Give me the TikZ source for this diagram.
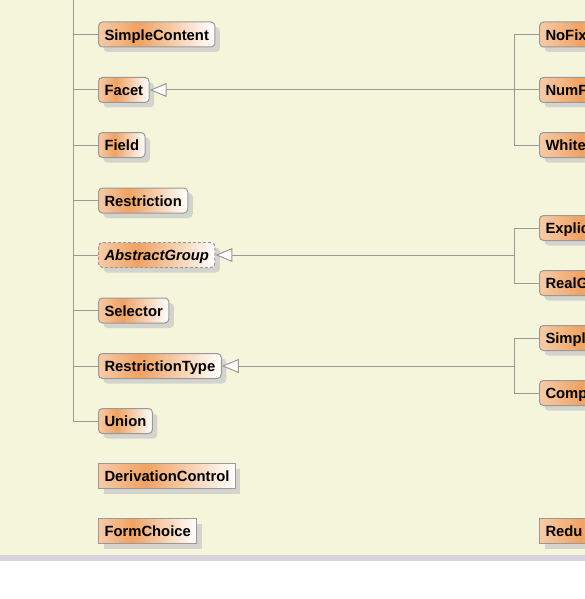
\documentclass[tikz,border=0pt]{standalone}
\usepackage{fontspec}
\setmainfont{Liberation Sans}
\usetikzlibrary{shadows,arrows.meta}
\definecolor{bgbeige}{HTML}{F5F5DC}
\definecolor{bandgray}{HTML}{D4D4DA}
\definecolor{linegray}{HTML}{999999}
\definecolor{shadowgray}{HTML}{D4D4CE}
\definecolor{oL}{HTML}{F6CBA8}
\definecolor{oM}{HTML}{F0A262}
\pgfdeclarehorizontalshading{boxshade}{100bp}{color(0bp)=(oL); color(25bp)=(oL); color(42bp)=(oM); color(75bp)=(white); color(100bp)=(white)}
\tikzset{
  cls/.style={draw=linegray, line width=1pt, shading=boxshade, rounded corners=4pt,
    inner xsep=6pt, inner ysep=0pt, minimum height=25pt, anchor=north west,
    text height=12pt, text depth=0.4pt,
    font=\fontsize{14.8}{17}\selectfont\bfseries,
    drop shadow={shadow xshift=5pt, shadow yshift=-5pt, fill=shadowgray, opacity=1}},
  sqcls/.style={cls, rounded corners=0pt},
  abscls/.style={cls, dash pattern=on 3pt off 2pt, font=\fontsize{14.8}{17}\selectfont\bfseries\itshape},
  cut/.style={text width=110pt, align=left},
  wire/.style={draw=linegray, line width=1pt},
  gen/.style={wire, -{Triangle[open, length=17pt, width=14pt, fill=white]}}
}
\begin{document}
\begin{tikzpicture}[x=1pt,y=-1pt]
\clip (0,0) rectangle (585,599);
\fill[white] (0,0) rectangle (585,599);
\fill[bgbeige] (0,0) rectangle (585,555);
\fill[bandgray] (0,555) rectangle (585,561);
% left column
\node[cls] (sc) at (98,21.5) {SimpleContent};
\node[cls] (facet) at (98,77) {Facet};
\node[cls] (field) at (98,132) {Field};
\node[cls] (restr) at (98,187.5) {Restriction};
\node[abscls] (ag) at (98,242) {AbstractGroup};
\node[cls] (sel) at (98,297.5) {Selector};
\node[cls] (rt) at (98,353) {RestrictionType};
\node[cls] (union) at (98,408) {Union};
\node[sqcls] (dc) at (98,463) {DerivationControl};
\node[sqcls] (fc) at (98,518) {FormChoice};
% right column
\node[cls,cut] (nofix) at (539,21.5) {NoFix};
\node[cls,cut] (numf) at (539,77) {NumF};
\node[cls,cut] (white) at (539,132) {White};
\node[cls,cut] (explic) at (539,215) {Explic};
\node[cls,cut] (realg) at (539,270) {RealG};
\node[cls,cut] (simpl) at (539,325) {Simpl};
\node[cls,cut] (comp) at (539,380) {Comp};
\node[sqcls,cut] (redu) at (539,518) {Redu};
% buses
\coordinate (lbus) at (73.5,0);
\coordinate (rbus) at (514.5,0);
\draw[wire] (lbus) |- (union.west);
\foreach \n in {sc,facet,field,restr,ag,sel,rt}
  \draw[wire] (\n.west) -- (\n.west -| lbus);
% right trees
\draw[wire] (nofix.west) -- (nofix.west -| rbus) -- (white.west -| rbus) -- (white.west);
\draw[gen] (numf.west) -- (facet.east);
\draw[wire] (explic.west) -- (explic.west -| rbus) -- (realg.west -| rbus) -- (realg.west);
\draw[gen] (ag.east -| rbus) -- (ag.east);
\draw[wire] (simpl.west) -- (simpl.west -| rbus) -- (comp.west -| rbus) -- (comp.west);
\draw[gen] (rt.east -| rbus) -- (rt.east);
\end{tikzpicture}
\end{document}
